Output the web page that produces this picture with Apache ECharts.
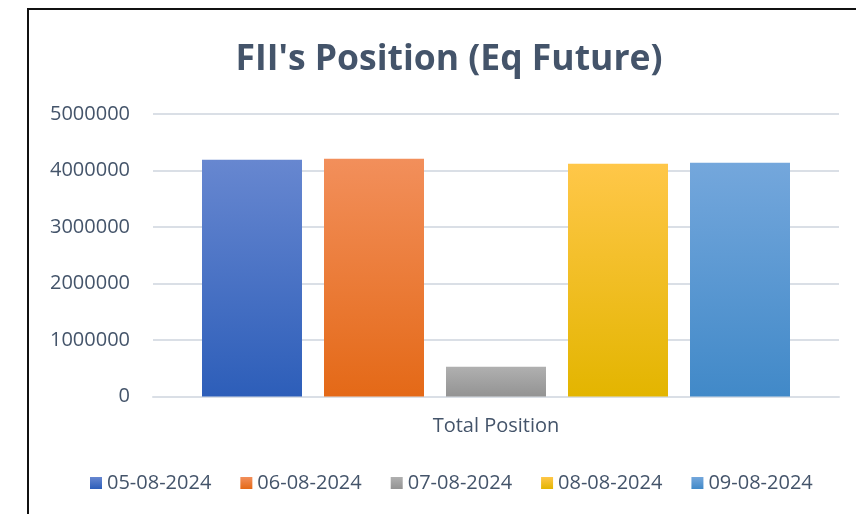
<!DOCTYPE html>
<html>
<head>
<meta charset="utf-8">
<script src="https://cdn.jsdelivr.net/npm/echarts@6/dist/echarts.min.js"></script>
<style>
    html, body {margin: 0; padding: 0; background: #ffffff;}
    #wrap {position: relative; width: 856px; height: 514px;}
    #chart {width: 856px; height: 514px;}
    #frame {position: absolute; left: 27px; top: 8px; right: -4px; bottom: -4px;
        border-top: 2px solid #111; border-left: 2px solid #111; pointer-events: none;}
</style>
</head>
<body>
<div id="wrap">
    <div id="chart"></div>
    <div id="frame"></div>
</div>
<script>
// 数据
var categories = ['Total Position'];
var dates = ['05-08-2024', '06-08-2024', '07-08-2024', '08-08-2024', '09-08-2024'];
var positions = [4190000, 4207000, 527000, 4119000, 4136000];
var yTicks = [0, 1000000, 2000000, 3000000, 4000000, 5000000];

// 渐变色 [上, 下]
var colors = [
    ['#6787d0', '#2d5eb9'],
    ['#f28f5b', '#e46917'],
    ['#b0b0b0', '#939393'],
    ['#ffc749', '#e3b500'],
    ['#74a7dc', '#4189c8']
];
var legendColors = ['#3f69c1', '#f07a2d', '#a5a5a5', '#ffc000', '#5b9bd5'];
var textColor = '#44546a';

var series = dates.map(function (d, i) {
    return {
        name: d,
        type: 'bar',
        data: [positions[i]],
        barWidth: 100,
        barGap: '22%',
        color: legendColors[i],
        itemStyle: {
            color: {
                type: 'linear',
                x: 0, y: 0, x2: 0, y2: 1,
                colorStops: [
                    {offset: 0, color: colors[i][0]},
                    {offset: 1, color: colors[i][1]}
                ]
            }
        }
    };
});

var option = {
    animation: false,
    title: {
        text: "FII's Position (Eq Future)",
        left: 444,
        top: 37,
        textAlign: 'center',
        textStyle: {
            fontFamily: 'Open Sans',
            fontWeight: 'bold',
            fontSize: 35.5,
            color: textColor
        }
    },
    legend: {
        data: dates,
        top: 468,
        left: 85,
        itemWidth: 12,
        itemHeight: 12,
        itemGap: 29,
        icon: 'rect',
        textStyle: {
            fontFamily: 'Open Sans',
            fontSize: 20,
            color: textColor
        }
    },
    grid: {
        left: 153,
        right: 17,
        top: 114,
        bottom: 117.5
    },
    xAxis: {
        type: 'category',
        data: categories,
        axisTick: {show: false},
        axisLine: {lineStyle: {color: '#dadfe6', width: 2}},
        axisLabel: {
            margin: 20,
            fontFamily: 'Open Sans',
            fontSize: 20,
            color: textColor
        }
    },
    yAxis: {
        type: 'value',
        min: yTicks[0],
        max: yTicks[yTicks.length - 1],
        interval: 1000000,
        axisLine: {show: false},
        axisTick: {show: false},
        axisLabel: {
            margin: 23,
            fontFamily: 'Open Sans',
            fontSize: 20,
            color: textColor,
            formatter: function (v) {
                return String(v);
            }
        },
        splitLine: {lineStyle: {color: '#dadfe6', width: 2}}
    },
    series: series
};

var chart = echarts.init(document.getElementById('chart'));
chart.setOption(option);
</script>
</body>
</html>
